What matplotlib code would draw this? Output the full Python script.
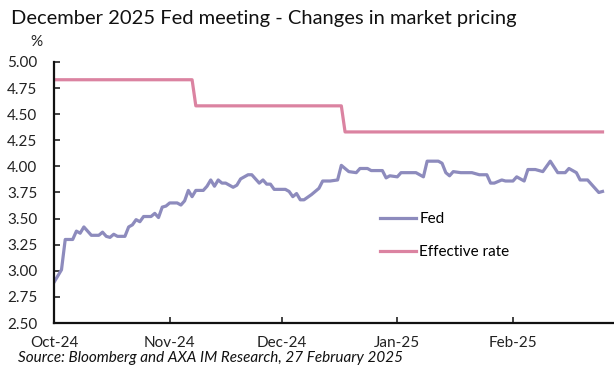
import pandas as pd
import matplotlib.pyplot as plt
import matplotlib.dates as mdates

plt.rcParams['font.family'] = ['Lato', 'DejaVu Sans']

# Fed: market-implied rate for the December 2025 meeting (%)
fed_dates = [
    '2024-10-01', '2024-10-03', '2024-10-04', '2024-10-06', '2024-10-07', '2024-10-08',
    '2024-10-09', '2024-10-11', '2024-10-13', '2024-10-14', '2024-10-15', '2024-10-16',
    '2024-10-17', '2024-10-18', '2024-10-20', '2024-10-21', '2024-10-22', '2024-10-23',
    '2024-10-24', '2024-10-25', '2024-10-27', '2024-10-28', '2024-10-29', '2024-10-30',
    '2024-10-31', '2024-11-01', '2024-11-03', '2024-11-04', '2024-11-05', '2024-11-06',
    '2024-11-07', '2024-11-08', '2024-11-10', '2024-11-11', '2024-11-12', '2024-11-13',
    '2024-11-14', '2024-11-15', '2024-11-16', '2024-11-18', '2024-11-19', '2024-11-20',
    '2024-11-22', '2024-11-23', '2024-11-25', '2024-11-26', '2024-11-27', '2024-11-28',
    '2024-11-29', '2024-12-02', '2024-12-03', '2024-12-04', '2024-12-05', '2024-12-06',
    '2024-12-07', '2024-12-09', '2024-12-10', '2024-12-11', '2024-12-12', '2024-12-14',
    '2024-12-16', '2024-12-17', '2024-12-19', '2024-12-21', '2024-12-22', '2024-12-24',
    '2024-12-25', '2024-12-28', '2024-12-29', '2024-12-30', '2025-01-01', '2025-01-02',
    '2025-01-06', '2025-01-07', '2025-01-08', '2025-01-09', '2025-01-12', '2025-01-13',
    '2025-01-14', '2025-01-15', '2025-01-16', '2025-01-18', '2025-01-21', '2025-01-23',
    '2025-01-25', '2025-01-26', '2025-01-27', '2025-01-29', '2025-01-30', '2025-02-01',
    '2025-02-02', '2025-02-04', '2025-02-05', '2025-02-07', '2025-02-09', '2025-02-11',
    '2025-02-13', '2025-02-15', '2025-02-16', '2025-02-18', '2025-02-19', '2025-02-21',
    '2025-02-22', '2025-02-23', '2025-02-24', '2025-02-25',
]
fed_values = [
    2.89, 3.01, 3.30, 3.30, 3.38, 3.36,
    3.42, 3.34, 3.34, 3.37, 3.33, 3.32,
    3.35, 3.33, 3.33, 3.42, 3.44, 3.49,
    3.47, 3.52, 3.52, 3.55, 3.51, 3.61,
    3.62, 3.65, 3.65, 3.63, 3.67, 3.77,
    3.71, 3.77, 3.77, 3.81, 3.87, 3.81,
    3.87, 3.84, 3.84, 3.80, 3.82, 3.88,
    3.92, 3.92, 3.84, 3.87, 3.83, 3.83,
    3.78, 3.78, 3.76, 3.71, 3.74, 3.68,
    3.68, 3.73, 3.76, 3.79, 3.86, 3.86,
    3.87, 4.01, 3.95, 3.94, 3.98, 3.98,
    3.96, 3.96, 3.89, 3.91, 3.90, 3.94,
    3.94, 3.92, 3.90, 4.05, 4.05, 4.03,
    3.94, 3.91, 3.95, 3.94, 3.94, 3.92,
    3.92, 3.84, 3.84, 3.87, 3.86, 3.86,
    3.90, 3.86, 3.97, 3.97, 3.95, 4.05,
    3.94, 3.94, 3.98, 3.94, 3.87, 3.87,
    3.83, 3.79, 3.75, 3.76,
]

# Effective fed funds rate (%)
eff_dates = ['2024-10-01', '2024-11-07', '2024-11-08', '2024-12-17', '2024-12-18', '2025-02-25']
eff_values = [4.83, 4.83, 4.58, 4.58, 4.33, 4.33]

month_ticks = ['2024-10-01', '2024-11-01', '2024-12-01', '2025-01-01', '2025-02-01']

fed = pd.Series(fed_values, index=pd.to_datetime(fed_dates))
eff = pd.Series(eff_values, index=pd.to_datetime(eff_dates))

fig = plt.figure(figsize=(6.14, 3.78), dpi=100)
ax = fig.add_axes([0.088, 0.1455, 0.910, 0.6905])

ax.plot(fed.index, fed.values, color='#8d8bbd', lw=2.3, label='Fed')
ax.plot(eff.index, eff.values, color='#db83a1', lw=2.3, label='Effective rate')

ax.set_ylim(2.5, 5.0)
ax.set_yticks([2.5 + 0.25 * i for i in range(11)])
ax.yaxis.set_major_formatter(plt.FuncFormatter(lambda v, p: f'{v:.2f}'))
ax.set_xlim(pd.Timestamp('2024-10-01'), pd.Timestamp('2025-02-27 18:00'))
ax.set_xticks(pd.to_datetime(month_ticks))
ax.xaxis.set_major_formatter(mdates.DateFormatter('%b-%y'))

for s in ['top', 'right']:
    ax.spines[s].set_visible(False)
for s in ['left', 'bottom']:
    ax.spines[s].set_linewidth(1.6)
    ax.spines[s].set_color('#111111')
ax.tick_params(axis='y', direction='in', length=4, width=1.2, pad=12, labelsize=11, colors='#222222')
ax.tick_params(axis='x', direction='in', length=4, width=1.2, pad=9, labelsize=11, colors='#222222')

ax.legend(loc='upper left', bbox_to_anchor=(0.583, 0.425), frameon=False, fontsize=11,
          handlelength=2.4, handletextpad=0.2, labelspacing=1.25, borderaxespad=0, borderpad=0)

fig.text(0.018, 0.952, 'December 2025 Fed meeting - Changes in market pricing',
         fontsize=14.5, color='#111111', va='center', ha='left')
fig.text(0.060, 0.888, '%', fontsize=11, color='#222222', va='center', ha='center')
fig.text(0.030, 0.052, 'Source: Bloomberg and AXA IM Research, 27 February 2025',
         fontsize=11, style='italic', color='#111111', va='center', ha='left')

fig.savefig('out.png', dpi=100)
